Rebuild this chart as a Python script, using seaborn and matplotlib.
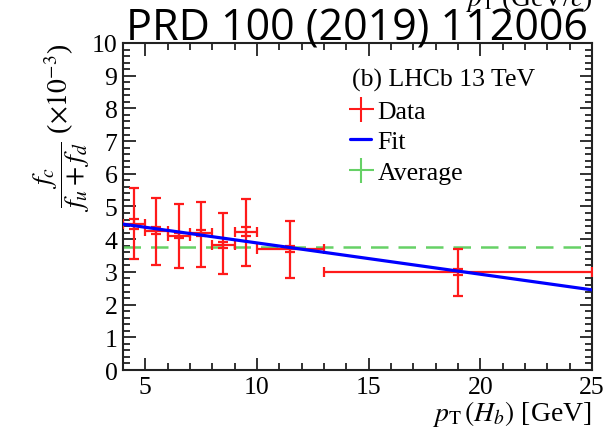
import matplotlib
matplotlib.use('Agg')
import matplotlib.pyplot as plt
from matplotlib.lines import Line2D
from matplotlib.ticker import MultipleLocator
import numpy as np
import seaborn as sns

# pT bins of H_b [GeV]
bin_lo = [4, 5, 6, 7, 8, 9, 10, 13]
bin_hi = [5, 6, 7, 8, 9, 10, 13, 25]
pt_center = [4.5, 5.5, 6.5, 7.5, 8.5, 9.5, 11.5, 19.0]
# fc/(fu+fd) x 1e-3
frac = [4.46, 4.26, 4.11, 4.19, 3.83, 4.23, 3.70, 2.99]
err_tot_up = [1.11, 0.99, 0.97, 0.96, 0.97, 1.00, 0.87, 0.71]
err_tot_dn = [1.07, 1.05, 1.00, 1.05, 0.90, 1.04, 0.90, 0.74]
err_stat = [0.16, 0.10, 0.08, 0.10, 0.09, 0.14, 0.08, 0.10]
fit_x = [4, 25]
fit_y = [4.46, 2.45]
average = 3.77

RED = '#ff1a1a'
BLUE = '#0000ff'
GREEN = '#66d166'
SERIF = ['Liberation Serif', 'DejaVu Serif']


def main():
    sns.set_style('ticks')
    plt.rcParams['font.family'] = SERIF
    plt.rcParams['mathtext.fontset'] = 'stix'
    plt.rcParams['text.color'] = 'black'

    fig = plt.figure(figsize=(6.1, 4.31), dpi=100)
    ax = fig.add_axes([0.2016, 0.1392, 0.7689, 0.7588])

    x = np.array(pt_center)
    xerr = [x - np.array(bin_lo), np.array(bin_hi) - x]
    ax.errorbar(x, frac, xerr=xerr, yerr=[err_tot_dn, err_tot_up], fmt='none',
                ecolor=RED, elinewidth=1.6, capsize=3.5, capthick=1.6, zorder=3)
    ax.errorbar(x, frac, yerr=err_stat, fmt='none', ecolor=RED,
                elinewidth=1.6, capsize=3.5, capthick=1.6, zorder=3)

    sns.lineplot(x=fit_x, y=fit_y, color=BLUE, linewidth=2.3, ax=ax, zorder=4)
    sns.lineplot(x=[4, 25], y=[average, average], color=GREEN, linewidth=1.8,
                 ax=ax, zorder=2)
    ax.lines[-1].set_dashes([7, 4])

    ax.set_xlim(4, 25)
    ax.set_ylim(0, 10)
    ax.xaxis.set_major_locator(MultipleLocator(5))
    ax.xaxis.set_minor_locator(MultipleLocator(1))
    ax.yaxis.set_major_locator(MultipleLocator(1))
    ax.yaxis.set_minor_locator(MultipleLocator(0.2))
    ax.tick_params(which='both', direction='in', top=True, right=True,
                   labelsize=18.5, width=1.3, color='#222222', labelcolor='black')
    ax.tick_params(which='major', length=9, pad=4)
    ax.tick_params(which='minor', length=5)
    for lab in ax.get_xticklabels() + ax.get_yticklabels():
        lab.set_family(SERIF)
    for sp in ax.spines.values():
        sp.set_linewidth(1.5)
        sp.set_color('#222222')

    ax.set_xlabel(r'$p_{\rm T}\,(H_b)$ [GeV]', fontsize=20, loc='right', labelpad=0,
                  color='black')
    ax.set_ylabel(r'$\dfrac{f_c}{f_u+f_d}$ ($\times10^{-3}$)', fontsize=20, loc='top',
                  labelpad=0, color='black')

    ax.text(0.489, 0.869, '(b) LHCb 13 TeV', transform=ax.transAxes, fontsize=18.5,
            va='baseline')
    handles = [
        Line2D([], [], color=RED, marker='+', markersize=18, markeredgewidth=1.5, linestyle='none'),
        Line2D([], [], color=BLUE, linewidth=2.3),
        Line2D([], [], color=GREEN, marker='+', markersize=18, markeredgewidth=1.5, linestyle='none'),
    ]
    ax.legend(handles, ['Data', 'Fit', 'Average'], loc='upper left',
              bbox_to_anchor=(0.485, 0.827), frameon=False, fontsize=18.5,
              handlelength=0.8, handletextpad=0.25, labelspacing=0.30, borderaxespad=0,
              borderpad=0)

    # text pasted over the figure
    fig.text(0.972, 0.987, r'$p_{\rm T}$ (GeV/$c$)', fontsize=20, ha='right', va='baseline')
    fig.text(0.585, 0.905, 'PRD 100 (2019) 112006', fontsize=31,
             family=['Open Sans', 'DejaVu Sans'], ha='center', va='baseline')

    fig.savefig('out.png', dpi=100)


if __name__ == '__main__':
    main()
